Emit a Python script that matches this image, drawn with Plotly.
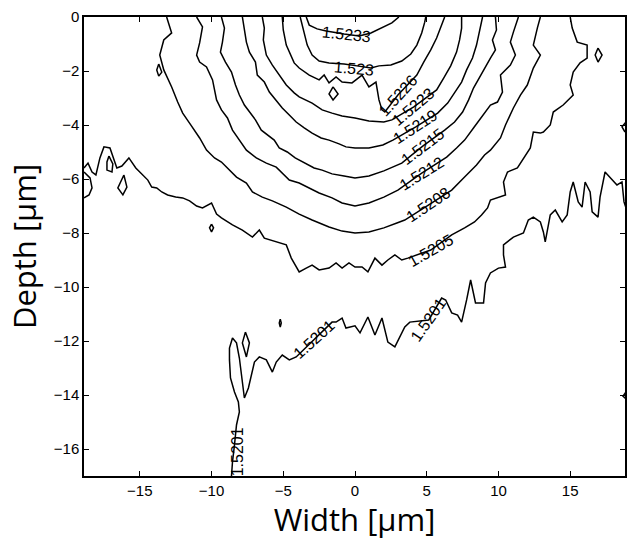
import plotly.graph_objects as go

# Refractive-index contours across the guide cross-section (width vs depth, in µm).
# Each level is stored as a polyline of (width, depth) vertices.

x_5233 = [-3.40, -3.19, -2.64, -2.01, -0.76, 0.28, 1.11, 1.88, 2.57, 3.06]
y_5233 = [0.00, -0.30, -0.44, -0.52, -0.63, -0.70, -0.59, -0.41, -0.22, 0.00]

x_5230 = [-3.82, -3.61, -3.33, -2.99, -2.50, -1.81, -0.76, 0.14, 1.11, 1.67, 2.50, 3.26, 3.89, 4.31, 4.65, 4.86, 4.93]
y_5230 = [0.00, -0.48, -1.04, -1.41, -1.63, -1.70, -1.74, -1.81, -1.89, -1.81, -1.78, -1.63, -1.37, -1.04, -0.59, -0.19, 0.00]

x_5226 = [-5.07, -5.00, -4.79, -4.51, -4.24, -3.89, -3.19, -2.50, -2.15, -1.81, -1.32, -0.90, -0.21, 0.49, 0.97, 1.46, 1.67, 1.88, 2.08, 2.99, 4.31, 4.79, 5.28, 5.69, 5.97, 6.25]
y_5226 = [0.00, -0.48, -1.04, -1.41, -1.70, -1.89, -2.15, -2.33, -2.15, -2.44, -2.22, -2.41, -2.44, -2.15, -2.59, -2.41, -3.07, -3.44, -3.52, -2.89, -2.15, -1.67, -1.22, -0.78, -0.37, 0.00]

x_5223 = [-6.46, -6.32, -6.39, -6.18, -5.76, -5.28, -4.79, -4.24, -3.89, -2.99, -2.29, -1.60, -0.90, 0.00, 0.97, 2.01, 2.57, 4.10, 5.69, 6.18, 6.67, 7.08, 7.29, 7.43, 7.43]
y_5223 = [0.00, -0.41, -0.85, -1.41, -1.78, -2.15, -2.52, -2.81, -2.96, -3.19, -3.44, -3.56, -3.67, -3.74, -3.85, -3.89, -3.81, -3.33, -2.70, -2.26, -1.81, -1.30, -0.85, -0.41, 0.00]

x_5219 = [-7.85, -7.71, -7.57, -7.36, -6.94, -6.81, -6.32, -5.97, -5.56, -5.07, -4.58, -4.10, -3.54, -2.99, -2.36, -1.81, -1.11, -0.63, 0.00, 0.97, 1.94, 2.64, 4.24, 5.76, 6.46, 6.94, 7.43, 7.78, 8.19, 8.47, 8.68, 8.89]
y_5219 = [0.00, -0.48, -0.93, -1.30, -1.67, -2.15, -2.41, -2.78, -3.07, -3.37, -3.63, -3.89, -4.11, -4.30, -4.48, -4.56, -4.70, -4.81, -4.85, -4.85, -4.74, -4.56, -4.07, -3.56, -3.19, -2.78, -2.41, -1.96, -1.52, -1.04, -0.56, 0.00]

x_5215 = [-9.31, -9.10, -9.24, -9.38, -9.03, -8.61, -8.33, -8.06, -7.71, -7.36, -6.94, -6.53, -6.11, -5.63, -5.28, -4.72, -4.17, -3.54, -2.85, -2.29, -1.60, -0.76, 0.00, 0.97, 2.01, 3.26, 4.72, 6.25, 6.94, 7.50, 7.92, 8.26, 8.75, 9.17, 9.44, 9.79, 9.58, 9.86, 9.79]
y_5215 = [0.00, -0.41, -0.93, -1.30, -1.67, -2.04, -2.52, -2.89, -3.26, -3.52, -3.81, -4.19, -4.37, -4.56, -4.85, -5.00, -5.22, -5.41, -5.59, -5.67, -5.81, -5.89, -5.96, -5.89, -5.70, -5.41, -4.78, -4.19, -3.89, -3.52, -3.07, -2.63, -2.15, -1.78, -1.52, -1.22, -0.85, -0.48, 0.00]

x_5212 = [-11.04, -10.63, -10.83, -11.04, -10.83, -10.35, -9.93, -9.65, -9.31, -8.89, -8.54, -8.06, -7.57, -6.88, -6.18, -5.49, -5.07, -4.58, -3.89, -3.19, -2.50, -1.60, -0.90, 0.00, 0.97, 2.01, 2.99, 4.65, 6.39, 7.08, 7.64, 8.26, 8.75, 9.17, 9.44, 9.93, 10.28, 10.14, 10.83, 11.18, 10.83, 11.04, 11.39]
y_5212 = [0.00, -0.37, -0.96, -1.41, -1.67, -1.85, -2.33, -3.07, -3.44, -3.74, -4.19, -4.56, -4.93, -5.22, -5.41, -5.56, -5.78, -6.04, -6.15, -6.33, -6.52, -6.70, -6.89, -7.00, -6.89, -6.67, -6.41, -5.78, -5.19, -4.85, -4.56, -4.11, -3.74, -3.44, -3.26, -3.15, -2.78, -2.15, -1.78, -1.41, -0.93, -0.56, 0.00]

x_5208 = [-13.13, -12.78, -13.33, -13.61, -13.33, -12.78, -12.36, -12.01, -11.39, -10.83, -10.35, -9.79, -9.31, -8.75, -8.26, -7.57, -7.15, -6.46, -5.76, -4.79, -3.89, -2.99, -1.81, -0.90, 0.00, 0.97, 2.01, 2.92, 3.47, 5.14, 6.74, 7.57, 8.47, 9.03, 9.44, 10.14, 10.49, 11.04, 11.53, 12.01, 12.43, 12.92, 12.43, 12.71, 12.92]
y_5208 = [0.00, -0.59, -0.85, -1.41, -1.96, -2.59, -3.15, -3.56, -4.04, -4.48, -4.93, -5.22, -5.37, -5.67, -5.93, -6.15, -6.48, -6.67, -6.81, -7.04, -7.30, -7.52, -7.78, -7.93, -8.00, -7.96, -7.81, -7.63, -7.52, -6.96, -6.41, -5.96, -5.48, -5.11, -4.93, -4.48, -4.00, -3.37, -2.89, -2.52, -1.89, -1.41, -1.04, -0.41, 0.00]

x_5205 = [-18.89, -18.61, -18.33, -18.06, -17.78, -17.50, -17.08, -16.81, -16.60, -16.25, -15.76, -15.28, -14.79, -14.44, -14.17, -13.82, -13.47, -13.06, -12.50, -12.01, -11.53, -11.04, -10.63, -10.28, -10.00, -9.65, -9.31, -8.54, -7.85, -7.15, -6.67, -6.32, -5.49, -4.79, -4.44, -3.89, -3.40, -2.99, -2.50, -1.81, -1.32, -0.90, -0.42, 0.00, 0.49, 0.90, 1.39, 1.88, 2.29, 2.78, 3.26, 3.68, 5.28, 6.74, 7.64, 8.33, 8.82, 9.24, 9.44, 9.93, 10.49, 10.35, 10.63, 11.32, 11.74, 12.22, 12.43, 12.92, 13.13, 13.61, 13.82, 14.51, 15.21, 15.00, 15.21, 15.69, 16.18, 16.18, 15.49, 15.14, 15.00]
y_5205 = [-5.59, -5.41, -5.74, -5.85, -5.22, -4.81, -4.85, -5.30, -5.59, -5.52, -5.22, -5.59, -5.85, -6.04, -6.30, -6.33, -6.48, -6.59, -6.67, -6.70, -6.81, -7.00, -7.07, -6.96, -6.89, -7.30, -7.44, -7.70, -7.89, -8.15, -7.89, -8.19, -8.33, -8.44, -8.93, -9.44, -9.30, -9.19, -9.37, -9.30, -9.11, -9.30, -9.11, -9.26, -9.26, -9.44, -8.93, -9.19, -9.00, -8.81, -9.00, -8.93, -8.63, -8.07, -7.81, -7.59, -7.33, -7.07, -6.78, -6.70, -6.59, -6.11, -5.74, -5.59, -5.22, -4.85, -4.26, -4.30, -4.26, -4.00, -3.52, -3.26, -2.89, -2.52, -2.04, -1.70, -1.52, -1.04, -0.93, -0.41, 0.00]

x_5201 = [-8.61, -8.54, -8.40, -8.26, -8.06, -8.13, -8.40, -8.68, -8.75, -8.75, -8.54, -8.26, -8.06, -7.92, -7.78, -7.71, -7.43, -7.22, -7.01, -6.67, -6.18, -5.76, -5.49, -5.07, -4.58, -4.10, -2.85, -1.60, -1.32, -0.90, -0.63, -0.28, 0.00, 0.35, 0.90, 1.39, 1.88, 2.29, 2.78, 3.47, 3.82, 5.14, 6.04, 6.32, 6.74, 7.15, 7.43, 7.78, 8.06, 8.40, 8.96, 9.10, 9.44, 10.00, 10.49, 10.35, 10.35, 11.04, 11.74, 12.08, 12.43, 12.92, 13.13, 13.26, 13.61, 13.96, 14.17, 14.44, 14.79, 15.00, 15.21, 15.56, 15.83, 16.04, 16.39, 16.53, 16.94, 17.08, 17.43, 17.78, 18.26, 18.61, 18.75, 18.89]
y_5201 = [-17.00, -16.48, -15.85, -15.11, -14.63, -14.26, -13.89, -13.37, -12.70, -12.26, -11.89, -12.07, -12.63, -13.26, -13.81, -14.11, -13.74, -13.26, -12.78, -12.59, -12.70, -13.15, -12.78, -12.52, -12.70, -12.59, -11.96, -11.30, -11.30, -11.15, -11.52, -11.48, -11.44, -11.70, -11.11, -11.78, -11.15, -12.04, -12.22, -11.48, -11.30, -11.22, -10.41, -10.48, -10.96, -11.04, -11.30, -10.48, -9.74, -10.59, -10.59, -9.85, -9.48, -9.30, -9.26, -8.81, -8.44, -8.15, -8.00, -7.52, -7.41, -7.59, -7.96, -8.33, -7.33, -7.15, -7.33, -7.59, -7.33, -6.48, -6.11, -6.85, -7.04, -6.11, -6.48, -7.22, -7.41, -6.67, -5.74, -5.96, -6.22, -6.11, -6.85, -7.07]

# Small isolated contour islands
isle_a_x = [-13.68, -13.47, -13.68, -13.82, -13.68]
isle_a_y = [-1.74, -2.04, -2.19, -1.96, -1.74]
isle_b_x = [-17.15, -16.88, -16.94, -17.29, -17.29, -17.15]
isle_b_y = [-5.15, -5.44, -5.74, -5.67, -5.37, -5.15]
isle_c_x = [-16.11, -15.90, -16.18, -16.53, -16.11]
isle_c_y = [-5.85, -6.30, -6.59, -6.33, -5.85]
isle_d_x = [-10.00, -9.86, -10.00, -10.14, -10.00]
isle_d_y = [-7.67, -7.81, -7.96, -7.81, -7.67]
isle_e_x = [-1.53, -1.18, -1.53, -1.81, -1.53]
isle_e_y = [-2.59, -2.85, -3.07, -2.85, -2.59]
isle_f_x = [16.94, 17.22, 16.94, 16.74, 16.94]
isle_f_y = [-1.15, -1.41, -1.67, -1.41, -1.15]
isle_g_x = [-7.64, -7.36, -7.57, -7.85, -7.64]
isle_g_y = [-11.67, -12.07, -12.59, -12.07, -11.67]
isle_h_x = [-5.21, -5.14, -5.21, -5.28, -5.21]
isle_h_y = [-11.19, -11.33, -11.48, -11.33, -11.19]
edge_l_x = [-18.89, -18.47, -18.33, -18.54, -18.89]
edge_l_y = [-5.74, -5.96, -6.33, -6.59, -6.70]
edge_r1_x = [18.89, 18.61, 18.82]
edge_r1_y = [-3.89, -4.07, -4.26]
edge_r2_x = [18.89, 18.68, 18.89]
edge_r2_y = [-13.89, -14.04, -14.15]

# Inline contour labels: text, anchor on the line, and text direction (deg)
label_text = ["1.5233", "1.523", "1.5226", "1.5223", "1.5219", "1.5215", "1.5212",
              "1.5208", "1.5205", "1.5201", "1.5201", "1.5201"]
label_x = [-0.56, -0.07, 2.99, 4.10, 4.24, 4.72, 4.65, 5.14, 5.28, -2.85, 5.14, -8.13]
label_y = [-0.63, -1.89, -2.89, -3.33, -4.07, -4.78, -5.78, -6.96, -8.63, -11.96, -11.22, -16.11]
label_angle = [6, 5, -48, -40, -33, -37, -32, -34, -30, -42, -55, -90]

x_ticks = [-15, -10, -5, 0, 5, 10, 15]
y_ticks = [-16, -14, -12, -10, -8, -6, -4, -2, 0]

lines = [
    (x_5233, y_5233), (x_5230, y_5230), (x_5226, y_5226), (x_5223, y_5223),
    (x_5219, y_5219), (x_5215, y_5215), (x_5212, y_5212), (x_5208, y_5208),
    (x_5205, y_5205), (x_5201, y_5201),
    (isle_a_x, isle_a_y), (isle_b_x, isle_b_y), (isle_c_x, isle_c_y),
    (isle_d_x, isle_d_y), (isle_e_x, isle_e_y), (isle_f_x, isle_f_y),
    (isle_g_x, isle_g_y), (isle_h_x, isle_h_y), (edge_l_x, edge_l_y),
    (edge_r1_x, edge_r1_y), (edge_r2_x, edge_r2_y),
]

fig = go.Figure()
for xs, ys in lines:
    fig.add_trace(go.Scatter(
        x=xs, y=ys, mode="lines",
        line=dict(color="black", width=1.5),
        hoverinfo="skip", showlegend=False,
    ))

for txt, lx, ly, ang in zip(label_text, label_x, label_y, label_angle):
    fig.add_annotation(
        x=lx, y=ly, xref="x", yref="y", text=txt, showarrow=False,
        textangle=ang, font=dict(family="Liberation Sans", size=16, color="black"),
    )

axis_common = dict(
    showline=True, linecolor="black", linewidth=1.5, mirror="ticks",
    ticks="inside", ticklen=5, tickwidth=1.2, tickcolor="black",
    showgrid=False, zeroline=False,
    tickfont=dict(family="Liberation Sans", size=15, color="black"),
)

fig.update_layout(
    width=628, height=540,
    margin=dict(l=84, r=1, t=17, b=64),
    paper_bgcolor="white", plot_bgcolor="white",
    xaxis=dict(
        range=[-18.89, 18.82], tickvals=x_ticks,
        title=dict(text="Width [µm]", font=dict(family="Open Sans", size=31, color="black"), standoff=6),
        **axis_common,
    ),
    yaxis=dict(
        range=[-17, 0], tickvals=y_ticks,
        title=dict(text="Depth [µm]", font=dict(family="Open Sans", size=31, color="black"), standoff=8),
        **axis_common,
    ),
)

fig.write_html("out.html")
